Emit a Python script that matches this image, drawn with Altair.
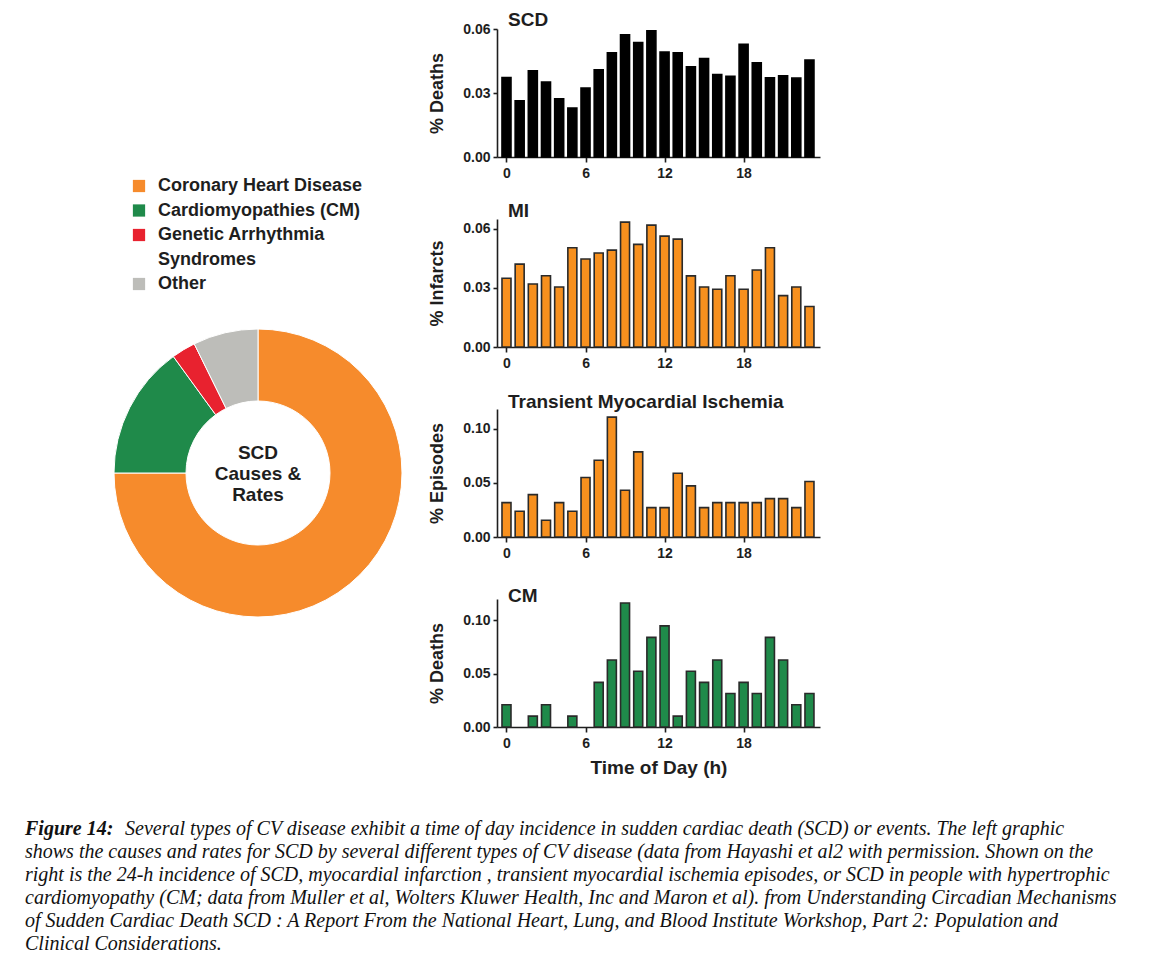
import altair as alt
import pandas as pd

# ---------------- data ----------------
hours = list(range(24))
scd_deaths = [0.0373, 0.0263, 0.0404, 0.0351, 0.0273, 0.0229, 0.0323, 0.0409,
              0.0489, 0.0573, 0.0536, 0.0591, 0.0492, 0.0489, 0.0423, 0.0461,
              0.0387, 0.0378, 0.0528, 0.0442, 0.0371, 0.0381, 0.0370, 0.0454]
mi_infarcts = [0.0349, 0.0421, 0.0320, 0.0362, 0.0305, 0.0504, 0.0447, 0.0477,
               0.0492, 0.0634, 0.0521, 0.0619, 0.0563, 0.0548, 0.0361, 0.0305,
               0.0293, 0.0362, 0.0293, 0.0391, 0.0504, 0.0261, 0.0305, 0.0206]
tmi_episodes = [0.0317, 0.0237, 0.0391, 0.0154, 0.0317, 0.0237, 0.0548, 0.0708,
                0.1105, 0.0431, 0.0785, 0.0271, 0.0271, 0.0588, 0.0471, 0.0271,
                0.0317, 0.0317, 0.0317, 0.0317, 0.0354, 0.0354, 0.0271, 0.0511]
cm_deaths = [0.0209, 0.0, 0.0102, 0.0209, 0.0, 0.0102, 0.0, 0.0418,
             0.0628, 0.1163, 0.0523, 0.0840, 0.0948, 0.0102, 0.0523, 0.0418,
             0.0628, 0.0314, 0.0418, 0.0314, 0.0840, 0.0628, 0.0209, 0.0314]
hour_ticks = [0, 6, 12, 18]

causes = ["Coronary Heart Disease", "Cardiomyopathies (CM)",
          "Genetic Arrhythmia\nSyndromes", "Other"]
cause_share = [75.0, 15.0, 2.7, 7.3]
cause_colors = ["#F68B2C", "#1F8A4A", "#E8222F", "#BDBDB9"]
center_label = "SCD\nCauses &\nRates"

caption_head = "Figure 14:"
caption_lines = [
    "Several types of  CV disease exhibit a time of day incidence in sudden cardiac death (SCD) or events. The left graphic",
    "shows the causes and rates for SCD by several different types of  CV  disease (data from Hayashi et al2 with permission. Shown on the",
    "right is the 24-h incidence of SCD, myocardial infarction , transient myocardial ischemia episodes, or SCD in people with hypertrophic",
    "cardiomyopathy (CM; data from Muller et al, Wolters Kluwer Health, Inc and Maron et al). from Understanding Circadian Mechanisms",
    "of Sudden Cardiac Death SCD : A Report From the National Heart, Lung, and Blood Institute Workshop, Part 2: Population and",
    "Clinical Considerations.",
]

SANS = "Liberation Sans"
SERIF = "Liberation Serif"
INK = "#1e1e1e"
COL1_W = 466
PANEL_W = 323
PANEL_H = 128

# ---------------- bar panels ----------------
def panel(values, title, title_offset, ytitle, ymax, yticks, fill, stroke, xtitle=None):
    df = pd.DataFrame({"hour": hours, "value": values})
    xaxis = dict(values=hour_ticks, tickSize=5, labelPadding=4, labelFlush=False)
    if xtitle:
        xaxis.update(title=xtitle, titleFontSize=19, titlePadding=8)
    else:
        xaxis.update(title="")
    bars = alt.Chart(df).transform_filter("datum.value > 0").mark_bar(
        size=9, fill=fill, stroke=stroke, strokeWidth=1.6).encode(
        x=alt.X("hour:Q", scale=alt.Scale(domain=[-0.72, 23.8], nice=False, zero=False,
                                          padding=0),
                axis=alt.Axis(**xaxis)),
        y=alt.Y("value:Q", scale=alt.Scale(domain=[0, ymax], nice=False),
                axis=alt.Axis(values=yticks, format=".2f", title=ytitle, tickSize=4,
                              labelPadding=3, titlePadding=16, titleFontSize=18)),
    )
    return bars.properties(width=PANEL_W, height=PANEL_H,
                           title=alt.TitleParams(title, offset=title_offset))


p_scd = panel(scd_deaths, "SCD", -8, "% Deaths", 0.06, [0, 0.03, 0.06], "#000000", "#000000")
p_mi = panel(mi_infarcts, "MI", -2, "% Infarcts", 0.065, [0, 0.03, 0.06], "#F7901E", "#2a2a2a")
p_tmi = panel(tmi_episodes, "Transient Myocardial Ischemia", -3, "% Episodes", 0.118,
              [0, 0.05, 0.10], "#F7901E", "#2a2a2a")
p_cm = panel(cm_deaths, "CM", -7, "% Deaths", 0.12, [0, 0.05, 0.10], "#1F8A4A", "#2a2a2a",
             xtitle="Time of Day (h)")

# ---------------- legend (left, row 1) ----------------
rows = []
for c in causes:
    for j, line in enumerate(c.split("\n")):
        rows.append({"row": len(rows), "text": line, "cause": c, "first": j == 0})
leg_df = pd.DataFrame(rows)
color_scale = alt.Scale(domain=causes, range=cause_colors)
ypos = alt.Y("row:O", scale=alt.Scale(type="point", range=[157, 255], padding=0), axis=None)

leg_sq = alt.Chart(leg_df).transform_filter("datum.first").mark_square(size=150, opacity=1).encode(
    x=alt.value(114), y=ypos, color=alt.Color("cause:N", scale=color_scale, legend=None))
leg_tx = alt.Chart(leg_df).mark_text(align="left", baseline="middle", font=SANS,
                                     fontSize=18, fontWeight="bold", color=INK).encode(
    x=alt.value(133), y=ypos, text="text:N")
legend_view = (leg_sq + leg_tx).properties(width=COL1_W, height=PANEL_H)

# empty spacer cell (row 2, left)
spacer = alt.Chart(pd.DataFrame({"s": [0]})).mark_point(opacity=0).properties(
    width=COL1_W, height=PANEL_H)

# ---------------- donut (left, row 3) ----------------
donut_df = pd.DataFrame({"cause": causes, "share": cause_share, "order": list(range(len(causes)))})
arc = alt.Chart(donut_df).mark_arc(innerRadius=72, outerRadius=144, stroke="#ffffff",
                                   strokeWidth=1).encode(
    theta=alt.Theta("share:Q", stack=True),
    order=alt.Order("order:Q"),
    color=alt.Color("cause:N", scale=color_scale, legend=None),
)
center = alt.Chart(pd.DataFrame({"t": [center_label]})).mark_text(
    lineBreak="\n", font=SANS, fontSize=19, fontWeight="bold", color=INK, lineHeight=21,
    align="center", baseline="middle", dy=-20).encode(text="t:N")
donut = (arc + center).properties(width=COL1_W, height=PANEL_H)

# ---------------- caption (left, row 4, spills across) ----------------
cap_rows = [{"line": 0, "text": caption_head, "part": "head"},
            {"line": 0, "text": caption_lines[0], "part": "first"}]
for i, t in enumerate(caption_lines[1:], start=1):
    cap_rows.append({"line": i, "text": t, "part": "rest"})
cap_df = pd.DataFrame(cap_rows)
cap_y = alt.Y("line:O", scale=alt.Scale(type="point", range=[230, 345], padding=0), axis=None)
cap_base = alt.Chart(cap_df)
cap_style = dict(align="left", baseline="middle", font=SERIF, fontSize=20,
                 fontStyle="italic", color="#111")
cap_head = cap_base.transform_filter("datum.part == 'head'").mark_text(
    fontWeight="bold", **cap_style).encode(x=alt.value(0), y=cap_y, text="text:N")
cap_first = cap_base.transform_filter("datum.part == 'first'").mark_text(
    dx=100, **cap_style).encode(x=alt.value(0), y=cap_y, text="text:N")
cap_rest = cap_base.transform_filter("datum.part == 'rest'").mark_text(
    **cap_style).encode(x=alt.value(0), y=cap_y, text="text:N")
caption = (cap_head + cap_first + cap_rest).properties(width=COL1_W, height=PANEL_H)

chart = alt.concat(
    legend_view, p_scd,
    spacer, p_mi,
    donut, p_tmi,
    caption, p_cm,
    columns=2, spacing={"row": 62, "column": 6}, bounds="flush",
).properties(
    padding={"left": 17, "top": 3, "right": 5, "bottom": 5}
).configure_view(strokeWidth=0).configure_axis(
    grid=False, domainColor=INK, domainWidth=1.6, tickColor=INK, tickWidth=1.6,
    labelFont=SANS, labelFontSize=14, labelFontWeight="bold", labelColor=INK,
    titleFont=SANS, titleFontWeight="bold", titleColor=INK,
).configure_title(
    font=SANS, fontSize=19, fontWeight="bold", color=INK, anchor="start", dx=11,
    baseline="alphabetic", frame="group",
)

chart.save("out.html", embed_options={"renderer": "svg", "actions": False})
